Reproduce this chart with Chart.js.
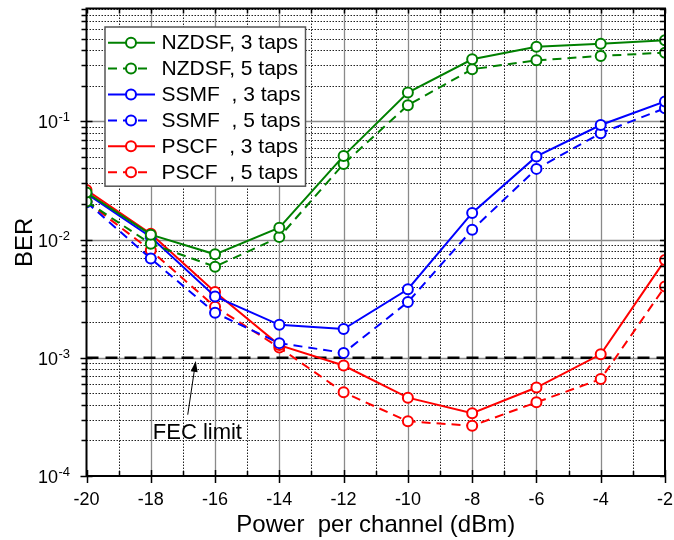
<!DOCTYPE html>
<html>
<head>
<meta charset="utf-8">
<script src="https://cdn.jsdelivr.net/npm/chart.js@4.4.0/dist/chart.umd.min.js"></script>
<style>
  body { margin: 0; background: #fff; }
  canvas { display: block; }
</style>
</head>
<body>
<canvas id="berChart" width="674" height="540"></canvas>
<script>
// launch power per channel (dBm)
var power = [-20, -18, -16, -14, -12, -10, -8, -6, -4, -2];

// BER
var nzdsf3 = [0.025, 0.011, 0.0075, 0.0126, 0.051, 0.175, 0.335, 0.428, 0.454, 0.484];
var nzdsf5 = [0.021, 0.0092, 0.0059, 0.0105, 0.0436, 0.137, 0.276, 0.328, 0.357, 0.381];
var ssmf3 = [0.0245, 0.0105, 0.0033, 0.0019, 0.00175, 0.0038, 0.0168, 0.0505, 0.093, 0.147];
var ssmf5 = [0.0207, 0.0069, 0.0024, 0.00133, 0.0011, 0.00296, 0.0121, 0.0396, 0.0794, 0.129];
var pscf3 = [0.0262, 0.0112, 0.0036, 0.00128, 0.00086, 0.00046, 0.00034, 0.00056, 0.00107, 0.0067];
var pscf5 = [0.021, 0.0081, 0.0027, 0.00122, 0.00051, 0.00029, 0.000266, 0.00042, 0.00066, 0.0040];

var fecLimit = 1e-3;
var yExponents = [-4, -3, -2, -1];

// where the "FEC limit" note sits, in data units
var fecText = { x: -16.55, y: 2.3e-4 };
var fecArrowFrom = { x: -16.85, y: 3.3e-4 };
var fecArrowTo = { x: -16.6, y: 9.4e-4 };

var FONT = 'Liberation Sans, Arial, Helvetica, sans-serif';
var GREEN = '#008000', BLUE = '#0000ff', RED = '#ff0000';
var DASH = [9, 6];

Chart.defaults.color = '#000';
Chart.defaults.font.family = FONT;

function pts(arr) {
  return power.map(function (p, i) { return { x: p, y: arr[i] }; });
}

function series(label, arr, color, dashed) {
  return {
    label: label,
    data: pts(arr),
    borderColor: color,
    backgroundColor: '#fff',
    borderWidth: 2,
    borderDash: dashed ? DASH : [],
    pointRadius: 5,
    pointHoverRadius: 5,
    pointBorderWidth: 2,
    pointBorderColor: color,
    pointBackgroundColor: '#fff',
    tension: 0,
    clip: 0,
    inLegend: true
  };
}

var gridPlugin = {
  id: 'berGrid',
  beforeDatasetsDraw: function (chart) {
    var ctx = chart.ctx, a = chart.chartArea;
    var xs = chart.scales.x, ys = chart.scales.y;
    ctx.save();
    ctx.lineWidth = 1;
    // minor dotted lines
    ctx.strokeStyle = '#222';
    ctx.setLineDash([1.5, 1.5]);
    ctx.beginPath();
    for (var v = xs.min + 1; v < xs.max; v += 2) {
      var px = Math.round(xs.getPixelForValue(v)) + 0.5;
      ctx.moveTo(px, a.top); ctx.lineTo(px, a.bottom);
    }
    yExponents.forEach(function (e) {
      for (var m = 2; m <= 9; m++) {
        var val = m * Math.pow(10, e);
        if (val > ys.max) continue;
        var py = Math.round(ys.getPixelForValue(val)) + 0.5;
        ctx.moveTo(a.left, py); ctx.lineTo(a.right, py);
      }
    });
    ctx.stroke();
    // major solid lines
    ctx.setLineDash([]);
    ctx.strokeStyle = '#8a8a8a';
    ctx.lineWidth = 1.3;
    ctx.beginPath();
    for (var w = xs.min + 2; w < xs.max; w += 2) {
      var qx = Math.round(xs.getPixelForValue(w)) + 0.5;
      ctx.moveTo(qx, a.top); ctx.lineTo(qx, a.bottom);
    }
    yExponents.forEach(function (e) {
      var val = Math.pow(10, e);
      if (val <= ys.min) return;
      var qy = Math.round(ys.getPixelForValue(val)) + 0.5;
      ctx.moveTo(a.left, qy); ctx.lineTo(a.right, qy);
    });
    ctx.stroke();
    ctx.restore();
  },
  afterDatasetsDraw: function (chart) {
    var ctx = chart.ctx, a = chart.chartArea;
    var xs = chart.scales.x, ys = chart.scales.y;
    ctx.save();

    // ticks
    ctx.strokeStyle = '#000';
    ctx.lineWidth = 1.5;
    ctx.beginPath();
    for (var v = xs.min; v <= xs.max; v += 1) {
      var px = Math.round(xs.getPixelForValue(v)) + 0.5;
      var major = (v - xs.min) % 2 === 0;
      if (major) { ctx.moveTo(px, a.bottom - 6); ctx.lineTo(px, a.bottom + 7); }
      else { ctx.moveTo(px, a.bottom - 5); ctx.lineTo(px, a.bottom); }
      ctx.moveTo(px, a.top); ctx.lineTo(px, a.top + 5);
    }
    yExponents.forEach(function (e) {
      for (var m = 1; m <= 9; m++) {
        var val = m * Math.pow(10, e);
        if (val > ys.max) continue;
        var py = Math.round(ys.getPixelForValue(val)) + 0.5;
        if (m === 1) { ctx.moveTo(a.left - 6, py); ctx.lineTo(a.left + 6, py); }
        else { ctx.moveTo(a.left - 5, py); ctx.lineTo(a.left, py); }
        ctx.moveTo(a.right - 5, py); ctx.lineTo(a.right, py);
      }
    });
    ctx.stroke();

    // frame
    ctx.lineWidth = 2;
    ctx.strokeRect(a.left, a.top, a.right - a.left, a.bottom - a.top);

    // y labels 10^n
    ctx.fillStyle = '#000';
    yExponents.forEach(function (e) {
      var py = ys.getPixelForValue(Math.pow(10, e));
      ctx.font = '18px ' + FONT;
      ctx.textAlign = 'right';
      ctx.textBaseline = 'middle';
      ctx.fillText('10', a.left - 28.5, py + 2);
      ctx.font = '13px ' + FONT;
      ctx.textAlign = 'left';
      ctx.textBaseline = 'alphabetic';
      ctx.fillText(String(e), a.left - 28, py);
    });

    // FEC note and arrow
    ctx.font = '22px ' + FONT;
    ctx.textAlign = 'center';
    ctx.textBaseline = 'middle';
    ctx.fillText('FEC limit', xs.getPixelForValue(fecText.x), ys.getPixelForValue(fecText.y));
    var x0 = xs.getPixelForValue(fecArrowFrom.x), y0 = ys.getPixelForValue(fecArrowFrom.y);
    var x1 = xs.getPixelForValue(fecArrowTo.x), y1 = ys.getPixelForValue(fecArrowTo.y);
    var ang = Math.atan2(y1 - y0, x1 - x0);
    ctx.lineWidth = 1;
    ctx.beginPath();
    ctx.moveTo(x0, y0); ctx.lineTo(x1 - 8 * Math.cos(ang), y1 - 8 * Math.sin(ang));
    ctx.stroke();
    ctx.beginPath();
    ctx.moveTo(x1, y1);
    ctx.lineTo(x1 - 11 * Math.cos(ang) + 3.5 * Math.sin(ang), y1 - 11 * Math.sin(ang) - 3.5 * Math.cos(ang));
    ctx.lineTo(x1 - 11 * Math.cos(ang) - 3.5 * Math.sin(ang), y1 - 11 * Math.sin(ang) + 3.5 * Math.cos(ang));
    ctx.closePath();
    ctx.fill();

    // legend box
    var sets = chart.data.datasets.filter(function (d) { return d.inLegend; });
    var left = a.left + 18.5, top = a.top + 18.5, rowH = 25.9;
    var boxW = 200.5, boxH = 15.7 + (sets.length - 1) * rowH + 14;
    ctx.fillStyle = '#fff';
    ctx.fillRect(left, top, boxW, boxH);
    ctx.strokeStyle = '#555';
    ctx.lineWidth = 1.5;
    ctx.strokeRect(left, top, boxW, boxH);
    sets.forEach(function (d, i) {
      var cy = top + 15.7 + i * rowH;
      var cx = left + 26;
      ctx.strokeStyle = d.borderColor;
      ctx.lineWidth = 2;
      ctx.setLineDash(d.borderDash);
      ctx.beginPath();
      ctx.moveTo(left + 3, cy);
      ctx.lineTo(left + (d.borderDash.length ? 44 : 50), cy);
      ctx.stroke();
      ctx.setLineDash([]);
      ctx.beginPath();
      ctx.arc(cx, cy, 5, 0, Math.PI * 2);
      ctx.fillStyle = '#fff';
      ctx.fill();
      ctx.stroke();
      ctx.fillStyle = '#000';
      ctx.font = '21px ' + FONT;
      ctx.textAlign = 'left';
      ctx.textBaseline = 'middle';
      ctx.fillText(d.label, left + 56.5, cy + 1);
    });
    ctx.restore();
  }
};

var fecLine = {
  label: 'FEC limit',
  data: [{ x: power[0], y: fecLimit }, { x: power[power.length - 1], y: fecLimit }],
  borderColor: '#000',
  borderWidth: 2.5,
  borderDash: [12, 7],
  pointRadius: 0,
  order: 10,
  clip: 0,
  inLegend: false
};

var ctxB = document.getElementById('berChart').getContext('2d');
var berChart = new Chart(ctxB, {
  type: 'line',
  data: {
    datasets: [
      series('NZDSF, 3 taps', nzdsf3, GREEN, false),
      series('NZDSF, 5 taps', nzdsf5, GREEN, true),
      series('SSMF  , 3 taps', ssmf3, BLUE, false),
      series('SSMF  , 5 taps', ssmf5, BLUE, true),
      series('PSCF  , 3 taps', pscf3, RED, false),
      series('PSCF  , 5 taps', pscf5, RED, true),
      fecLine
    ]
  },
  options: {
    responsive: false,
    animation: false,
    events: [],
    layout: { padding: { left: 11, right: 9, top: 8.5, bottom: 0 } },
    plugins: { legend: { display: false }, tooltip: { enabled: false } },
    scales: {
      x: {
        type: 'linear',
        min: -20,
        max: -2,
        grid: { display: false, drawTicks: false },
        border: { display: false },
        ticks: {
          stepSize: 2,
          padding: 1,
          color: '#000',
          font: { size: 18, lineHeight: 2.6 },
          callback: function (v) { return String(v); }
        },
        title: {
          display: true,
          text: 'Power  per channel (dBm)',
          color: '#000',
          font: { size: 24 },
          padding: { top: -14.2, bottom: 0.6 }
        }
      },
      y: {
        type: 'logarithmic',
        min: 1e-4,
        max: 0.9,
        grid: { display: false, drawTicks: false },
        border: { display: false },
        ticks: { display: false },
        title: {
          display: true,
          text: 'BER',
          color: '#000',
          font: { size: 24 },
          padding: { top: 0, bottom: 46.7 }
        }
      }
    }
  },
  plugins: [gridPlugin]
});
</script>
</body>
</html>
